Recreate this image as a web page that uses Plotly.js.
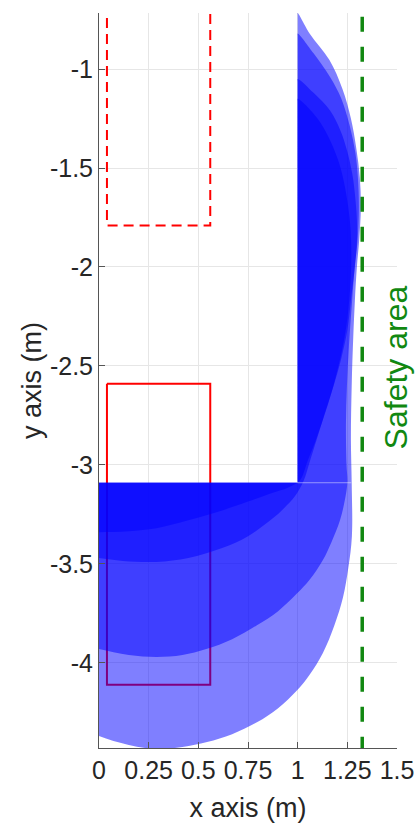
<!DOCTYPE html>
<html>
<head>
<meta charset="utf-8">
<script src="https://cdn.plot.ly/plotly-3.0.1.min.js"></script>
<style>html,body{margin:0;padding:0;background:#fff;}#chart{width:418px;height:823px;}</style>
</head>
<body>
<div id="chart"></div>
<script>
// ---- data ----
const xTickVals = [0, 0.25, 0.5, 0.75, 1, 1.25, 1.5];
const xTickText = ["0", "0.25", "0.5", "0.75", "1", "1.25", "1.5"];
const yTickVals = [-4, -3.5, -3, -2.5, -2, -1.5, -1];
const yTickText = ["-4", "-3.5", "-3", "-2.5", "-2", "-1.5", "-1"];

// previous (dashed) and current (solid) object boxes
const dashedBoxX = [0.04, 0.04, 0.56, 0.56];
const dashedBoxY = [-0.5, -1.79, -1.79, -0.5];
const solidBoxX = [0.04, 0.56, 0.56, 0.04, 0.04];
const solidBoxY = [-2.59, -2.59, -4.11, -4.11, -2.59];

// safety limit
const safetyX = [1.325, 1.325];
const safetyY = [-4.6, -0.5];

// swept area, outer (light) envelope
const outerX = [1.0, 1.0, 1.0, 1.06, 1.16, 1.225, 1.268, 1.295, 1.313, 1.318, 1.31, 1.298, 1.288, 1.28, 1.272, 1.268, 1.272, 1.273, 1.255, 1.228, 1.185, 1.127, 1.06, 0.996, 0.9, 0.795, 0.67, 0.544, 0.42, 0.29, 0.15, 0, -0.1, -0.1, -0.1, -0.09, 0.99, 1.0, 1.0, 1.0];
const outerY = [-2.0, -0.73, -0.717, -0.82, -0.955, -1.1, -1.25, -1.4, -1.55, -1.7, -1.86, -2.0, -2.17, -2.35, -2.6, -2.87, -3.09, -3.36, -3.52, -3.67, -3.81, -3.95, -4.06, -4.14, -4.23, -4.30, -4.36, -4.40, -4.425, -4.435, -4.415, -4.37, -4.32, -3.10, -3.09, -3.09, -3.09, -3.09, -3.08, -2.0];

// medium envelope
const midX = [1.0, 1.0, 1.0, 1.08, 1.163, 1.22, 1.263, 1.29, 1.303, 1.308, 1.302, 1.287, 1.272, 1.258, 1.248, 1.243, 1.246, 1.25, 1.235, 1.213, 1.17, 1.127, 1.06, 0.996, 0.9, 0.795, 0.67, 0.54, 0.42, 0.29, 0.15, 0, -0.1, -0.1, -0.1, -0.09, 0.99, 1.0, 1.0, 1.0];
const midY = [-2.0, -0.835, -0.82, -0.92, -1.04, -1.15, -1.29, -1.42, -1.545, -1.70, -1.86, -2.0, -2.2, -2.4, -2.6, -2.8, -3.0, -3.09, -3.19, -3.28, -3.39, -3.48, -3.58, -3.65, -3.74, -3.81, -3.88, -3.93, -3.96, -3.97, -3.96, -3.93, -3.91, -3.10, -3.09, -3.09, -3.09, -3.09, -3.08, -2.0];

// dark envelope
const darkX = [1.0, 1.0, 1.0, 1.08, 1.163, 1.215, 1.248, 1.275, 1.288, 1.298, 1.298, 1.288, 1.27, 1.25, 1.22, 1.19, 1.127, 1.062, 1.03, 0.985, 0.93, 0.875, 0.75, 0.62, 0.45, 0.29, 0.12, 0, -0.1, -0.1, -0.1, -0.09, 0.99, 1.0, 1.0, 1.0];
const darkY = [-2.0, -1.065, -1.05, -1.12, -1.21, -1.31, -1.41, -1.53, -1.63, -1.76, -1.88, -2.0, -2.15, -2.32, -2.46, -2.57, -2.77, -2.98, -3.08, -3.16, -3.22, -3.27, -3.36, -3.42, -3.47, -3.49, -3.485, -3.47, -3.46, -3.10, -3.09, -3.09, -3.09, -3.09, -3.08, -2.0];

// darkest core
const coreX = [1.0, 1.0, 1.0, 1.1, 1.2, 1.255, 1.27, 1.245, 1.18, 1.1, 1.05, 1.01, 0.95, 0.875, 0.75, 0.62, 0.45, 0.29, 0.15, 0, -0.1, -0.1, -0.1, -0.09, 0.99, 1.0, 1.0, 1.0];
const coreY = [-2.0, -1.165, -1.15, -1.25, -1.45, -1.7, -1.95, -2.3, -2.6, -2.85, -2.98, -3.08, -3.115, -3.14, -3.185, -3.23, -3.28, -3.32, -3.335, -3.34, -3.34, -3.10, -3.09, -3.09, -3.09, -3.09, -3.08, -2.0];

// edge seam of the horizontal sweep
const seamX = [1.0, 1.27];
const seamY = [-3.09, -3.09];

// ---- traces ----
const blueFill = 'rgba(0,0,255,0.5)';
function area(x, y) {
  return {x: x, y: y, type: 'scatter', mode: 'lines', fill: 'toself',
          fillcolor: blueFill,
          line: {width: 0, shape: 'spline', smoothing: 1, simplify: false},
          hoverinfo: 'skip', showlegend: false};
}
const traces = [
  {x: dashedBoxX, y: dashedBoxY, type: 'scatter', mode: 'lines',
   line: {color: '#ff0000', width: 2, dash: '10px,6px'}, showlegend: false},
  {x: solidBoxX, y: solidBoxY, type: 'scatter', mode: 'lines',
   line: {color: '#ff0000', width: 2}, showlegend: false},
  area(outerX, outerY),
  area(midX, midY),
  area(darkX, darkY),
  area(coreX, coreY),
  {x: seamX, y: seamY, type: 'scatter', mode: 'lines',
   line: {color: 'rgba(255,255,255,0.45)', width: 1}, showlegend: false},
  {x: safetyX, y: safetyY, type: 'scatter', mode: 'lines',
   line: {color: '#118811', width: 3.5, dash: '15px,15px'}, showlegend: false}
];

const tickFont = {family: 'Liberation Sans, Arial, sans-serif', size: 25, color: '#262626'};
const titleFont = {family: 'Liberation Sans, Arial, sans-serif', size: 27, color: '#262626'};

const layout = {
  width: 418, height: 823,
  margin: {l: 99, r: 21, t: 13, b: 75, pad: 0},
  paper_bgcolor: '#ffffff', plot_bgcolor: '#ffffff',
  showlegend: false,
  xaxis: {
    range: [0, 1.5], tickvals: xTickVals, ticktext: xTickText,
    ticks: 'inside', ticklen: 6, tickcolor: '#555', tickwidth: 1,
    showline: true, linecolor: '#555', linewidth: 1, mirror: false,
    showgrid: true, gridcolor: '#e6e6e6', gridwidth: 1, zeroline: false,
    tickfont: tickFont,
    title: {text: 'x axis (m)', font: titleFont, standoff: 15}
  },
  yaxis: {
    range: [-4.43, -0.717], tickvals: yTickVals, ticktext: yTickText,
    ticks: 'inside', ticklen: 6, tickcolor: '#555', tickwidth: 1,
    showline: true, linecolor: '#555', linewidth: 1, mirror: false,
    showgrid: true, gridcolor: '#e6e6e6', gridwidth: 1, zeroline: false,
    tickfont: tickFont,
    title: {text: 'y axis (m)', font: titleFont, standoff: 0}
  },
  annotations: [{
    text: 'Safety area', xref: 'paper', yref: 'paper', x: 0.997, y: 0.518,
    xanchor: 'center', yanchor: 'middle', textangle: -90, showarrow: false,
    font: {family: 'Liberation Sans, Arial, sans-serif', size: 32, color: '#118811'}
  }]
};

Plotly.newPlot('chart', traces, layout, {staticPlot: true, displayModeBar: false});
</script>
</body>
</html>
